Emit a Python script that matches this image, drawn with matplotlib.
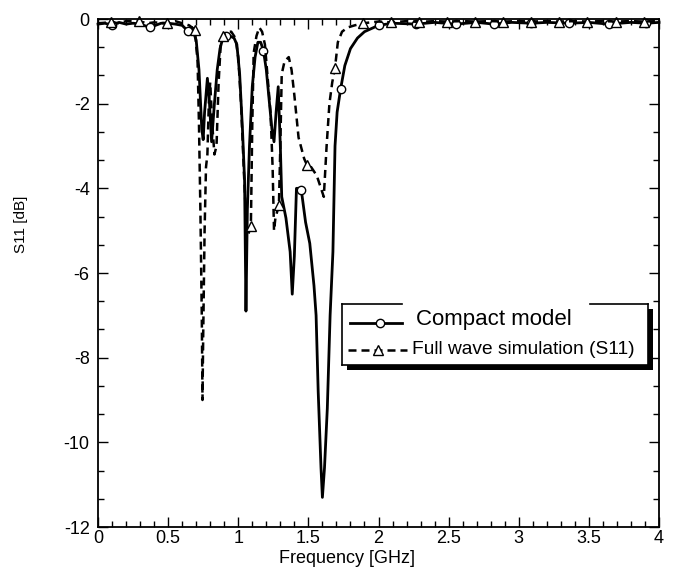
import numpy as np
import matplotlib.pyplot as plt
from matplotlib.patches import Rectangle

plt.rcParams['font.family'] = ['Liberation Sans', 'DejaVu Sans']
plt.rcParams['axes.unicode_minus'] = False

# compact model (solid line), frequency in GHz, S11 in dB
freq_compact = [
    0.0, 0.05, 0.1, 0.15, 0.2, 0.25, 0.3, 0.37, 0.45, 0.5, 0.55, 0.6, 0.64,
    0.67, 0.7, 0.72, 0.74, 0.75, 0.76, 0.78, 0.795, 0.81, 0.83, 0.85, 0.87,
    0.89, 0.91, 0.94, 0.97, 0.99, 1.01, 1.03, 1.045, 1.055, 1.065, 1.08, 1.10,
    1.12, 1.14, 1.16, 1.18, 1.20, 1.22, 1.24, 1.255, 1.27, 1.285, 1.30, 1.31,
    1.34, 1.37, 1.385, 1.40, 1.415, 1.43, 1.45, 1.48, 1.51, 1.54, 1.555, 1.57,
    1.59, 1.60, 1.615, 1.635, 1.655, 1.675, 1.69, 1.705, 1.73, 1.76, 1.8,
    1.85, 1.9, 2.0, 2.1, 2.27, 2.4, 2.55, 2.7, 2.82, 2.95, 3.09, 3.2, 3.36,
    3.5, 3.64, 3.8, 3.91, 4.0,
]
s11_compact = [
    -0.12, -0.1, -0.15, -0.08, -0.12, -0.1, -0.12, -0.2, -0.1, -0.1, -0.12,
    -0.15, -0.28, -0.2, -0.5, -1.2, -2.6, -2.85, -2.2, -1.4, -2.0, -2.9, -2.0,
    -1.2, -0.7, -0.45, -0.4, -0.4, -0.45, -0.6, -1.3, -2.6, -3.8, -6.9, -4.5,
    -3.0, -1.6, -0.9, -0.55, -0.55, -0.75, -1.2, -1.9, -2.6, -2.9, -2.2, -1.6,
    -3.0, -4.2, -4.7, -5.5, -6.5, -5.6, -4.0, -4.0, -4.05, -4.8, -5.3, -6.3,
    -7.0, -8.8, -10.6, -11.3, -10.6, -9.2, -7.0, -5.5, -3.0, -2.2, -1.65,
    -1.1, -0.7, -0.45, -0.3, -0.15, -0.1, -0.12, -0.08, -0.12, -0.08, -0.12,
    -0.08, -0.1, -0.08, -0.1, -0.08, -0.12, -0.08, -0.1, -0.08,
]
marks_compact = [0.1, 0.37, 0.64, 0.91, 1.18, 1.45, 1.73, 2.0, 2.27, 2.55,
                 2.82, 3.09, 3.36, 3.64, 3.91]

# full wave simulation (dashed line)
freq_fullwave = [
    0.0, 0.09, 0.15, 0.2, 0.29, 0.35, 0.4, 0.49, 0.55, 0.6, 0.65, 0.69, 0.71,
    0.72, 0.73, 0.74, 0.745, 0.75, 0.76, 0.77, 0.78, 0.79, 0.80, 0.815, 0.83,
    0.845, 0.86, 0.875, 0.89, 0.92, 0.95, 0.98, 1.0, 1.02, 1.04, 1.06, 1.07,
    1.09, 1.10, 1.11, 1.13, 1.15, 1.17, 1.19, 1.21, 1.23, 1.245, 1.255, 1.265,
    1.29, 1.30, 1.31, 1.33, 1.36, 1.38, 1.40, 1.43, 1.47, 1.49, 1.52, 1.56,
    1.59, 1.61, 1.63, 1.65, 1.67, 1.69, 1.71, 1.74, 1.78, 1.83, 1.89, 2.0,
    2.09, 2.2, 2.29, 2.4, 2.49, 2.6, 2.69, 2.8, 2.89, 3.0, 3.09, 3.2, 3.29,
    3.4, 3.49, 3.6, 3.69, 3.8, 3.89, 4.0,
]
s11_fullwave = [
    -0.1, -0.08, -0.1, -0.05, -0.05, -0.1, -0.08, -0.1, -0.05, -0.1, -0.15,
    -0.25, -1.0, -2.5, -4.5, -7.0, -9.0, -7.5, -5.0, -3.5, -3.2, -2.0, -1.5,
    -2.5, -3.2, -3.0, -1.5, -0.6, -0.4, -0.3, -0.3, -0.45, -0.9, -2.0, -3.6,
    -5.0, -5.1, -4.9, -2.5, -0.8, -0.4, -0.2, -0.3, -0.6, -1.4, -2.2, -3.5,
    -5.0, -4.7, -4.4, -3.0, -1.3, -1.0, -0.9, -1.2, -1.8, -2.8, -3.3, -3.45,
    -3.5, -3.7, -4.0, -4.2, -3.0, -2.0, -1.5, -1.15, -0.55, -0.3, -0.2, -0.15,
    -0.1, -0.06, -0.08, -0.05, -0.07, -0.05, -0.06, -0.05, -0.06, -0.05,
    -0.06, -0.05, -0.06, -0.05, -0.06, -0.05, -0.06, -0.05, -0.06, -0.05,
    -0.06, -0.05,
]
marks_fullwave = [0.09, 0.29, 0.49, 0.69, 0.89, 1.09, 1.29, 1.49, 1.69, 1.89,
                  2.09, 2.29, 2.49, 2.69, 2.89, 3.09, 3.29, 3.49, 3.69, 3.89]

x_ticks = [0, 0.5, 1, 1.5, 2, 2.5, 3, 3.5, 4]
x_tick_labels = ['0', '0.5', '1', '1.5', '2', '2.5', '3', '3.5', '4']
y_ticks = [0, -2, -4, -6, -8, -10, -12]


def marker_index(freq, marks):
    """
    Index of the data point closest to each marker frequency.
    """
    freq = np.asarray(freq)
    return [int(np.argmin(np.abs(freq - m))) for m in marks]


def px(x, y):
    """
    Pixel position of the reference image -> axes fraction.
    """
    return (x - 98) / 561, (527 - y) / 508


fig = plt.figure(figsize=(6.76, 5.69), dpi=100)
ax = fig.add_axes([98 / 676, 1 - 527 / 569, 561 / 676, 508 / 569])

ax.plot(freq_compact, s11_compact, color='black', lw=2.0,
        marker='o', ms=6, mfc='white', mec='black', mew=1.0,
        markevery=marker_index(freq_compact, marks_compact), clip_on=False)
ax.plot(freq_fullwave, s11_fullwave, color='black', lw=1.8, dashes=(3.2, 2.0),
        marker='^', ms=6.5, mfc='white', mec='black', mew=1.0,
        markevery=marker_index(freq_fullwave, marks_fullwave), clip_on=False)

ax.set_xlim(0, 4)
ax.set_ylim(-12, 0)
ax.set_xticks(x_ticks)
ax.set_xticklabels(x_tick_labels)
ax.set_yticks(y_ticks)
ax.set_xticks(np.arange(0, 4.01, 0.1), minor=True)
ax.set_yticks(np.arange(-12, 0.01, 2 / 3), minor=True)
ax.tick_params(which='both', direction='in', top=True, right=True,
               labelsize=13, width=1.0)
ax.tick_params(axis='x', which='both', pad=2.5)
ax.tick_params(axis='y', which='both', pad=6)
ax.tick_params(which='major', length=7)
ax.tick_params(which='minor', length=4)
for sp in ax.spines.values():
    sp.set_linewidth(1.3)

ax.set_xlabel('Frequency [GHz]', fontsize=13)
ax.xaxis.set_label_coords(0.444, -0.045)
ax.set_ylabel('S11 [dB]', fontsize=11)
ax.yaxis.set_label_coords(-0.124, 0.596)

# legend drawn by hand: black shadow, white box, broken top edge
tr = ax.transAxes
x0, y0 = px(342, 365)
x1, y1 = px(648, 304)
dx, dy = 5 / 561, 5 / 508
ax.add_patch(Rectangle((x0 + dx, y0 - dy), x1 - x0, y1 - y0, transform=tr,
                       fc='black', ec='none', zorder=5, clip_on=False))
ax.add_patch(Rectangle((x0, y0), x1 - x0, y1 - y0, transform=tr,
                       fc='white', ec='none', zorder=6, clip_on=False))
edges = [[(342, 304), (342, 365)], [(342, 365), (648, 365)],
         [(648, 365), (648, 304)], [(342, 304), (402, 304)],
         [(590, 304), (648, 304)]]
for a, b in edges:
    pa, pb = px(*a), px(*b)
    ax.plot([pa[0], pb[0]], [pa[1], pb[1]], color='black', lw=1.2,
            transform=tr, zorder=7, clip_on=False)

sx = [px(350, 0)[0], px(380, 0)[0], px(402, 0)[0]]
sy = px(0, 323)[1]
ax.plot(sx, [sy] * 3, color='black', lw=2.0, marker='o', ms=6,
        mfc='white', mec='black', mew=1.0, markevery=[1], transform=tr,
        zorder=8, clip_on=False)
dxs = [px(348, 0)[0], px(378, 0)[0], px(407, 0)[0]]
dys = px(0, 350)[1]
ax.plot(dxs, [dys] * 3, color='black', lw=1.8, dashes=(3.2, 2.0),
        marker='^', ms=6.5, mfc='white', mec='black', mew=1.0,
        markevery=[1], transform=tr, zorder=8, clip_on=False)

tx, ty = px(416, 319)
ax.text(tx, ty, 'Compact model', fontsize=16, va='center', ha='left',
        transform=tr, zorder=9)
tx, ty = px(412, 350)
ax.text(tx, ty, 'Full wave simulation (S11)', fontsize=13.8, va='center',
        ha='left', transform=tr, zorder=9)

plt.savefig('out.png', dpi=100)
